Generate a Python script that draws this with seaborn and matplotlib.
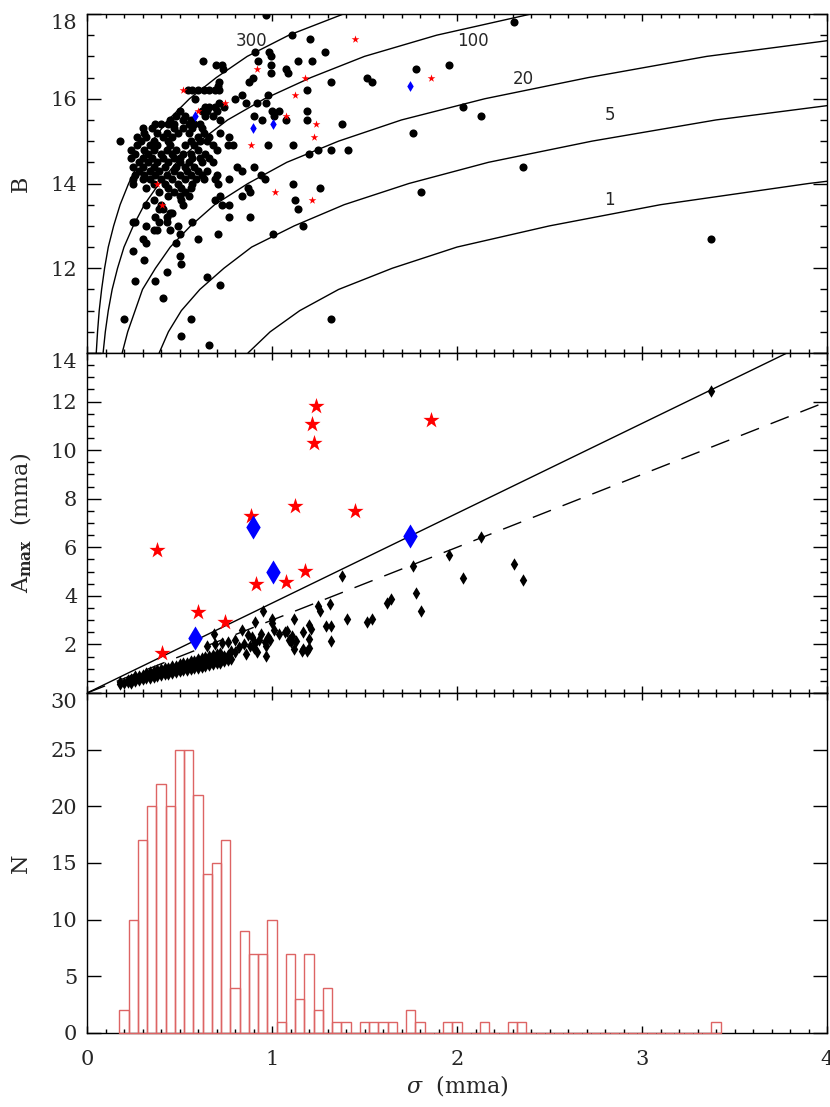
import numpy as np
import pandas as pd
import matplotlib
matplotlib.use("Agg")
import matplotlib.pyplot as plt
from matplotlib.ticker import MultipleLocator
import seaborn as sns

# ---------------- values ----------------
# top panel: B magnitude vs sigma (black dots), one row of B per line
top_sigma = [
    0.968,
    2.308,
    1.106,
    1.207,
    0.908, 0.986, 1.288,
    0.995,
    0.626, 0.926, 1.138, 1.216,
    0.698, 0.73, 0.995, 1.957,
    0.734, 1.076, 1.777,
    0.995, 1.085,
    0.896, 1.516,
    0.716, 0.878, 1.318, 1.538,
    0.707,
    0.545, 0.57, 0.60, 0.63, 0.66, 0.69, 0.716, 1.189,
    0.838, 0.977,
    0.586, 0.799,
    0.716, 0.86, 0.917, 0.968,
    0.64, 0.66, 0.69, 0.74, 2.03,
    0.50, 0.62, 0.65, 0.70, 1.00, 1.04, 1.19,
    0.48, 0.53, 0.64, 0.68, 0.90, 1.01, 2.128,
    0.45, 0.52, 0.56, 0.72, 0.946, 1.076, 1.189,
    0.37, 0.40, 0.44, 0.47, 0.55, 0.58, 0.61, 1.376,
    0.30, 0.35, 0.47, 0.52, 0.57, 0.62,
    0.31, 0.38, 0.43, 0.49, 0.55, 0.63, 0.72, 1.76,
    0.27, 0.32, 0.41, 0.46, 0.60, 0.66, 0.77,
    0.18, 0.29, 0.36, 0.44, 0.56, 0.61, 0.65,
    0.27, 0.34, 0.38, 0.45, 0.53, 0.58, 0.68, 0.76, 0.79, 0.977, 1.115,
    0.24, 0.31, 0.36, 0.43, 0.48, 0.60, 0.70, 1.246, 1.318, 1.41,
    0.26, 0.33, 0.40, 0.46, 0.52, 0.56, 0.64, 1.198,
    0.24, 0.30, 0.35, 0.41, 0.47, 0.50, 0.57, 0.61, 0.66,
    0.28, 0.33, 0.38, 0.44, 0.50, 0.55, 0.62, 0.68,
    0.25, 0.30, 0.36, 0.42, 0.48, 0.53, 0.58, 0.81, 0.90, 2.357,
    0.28, 0.34, 0.39, 0.47, 0.54, 0.60, 0.65, 0.84,
    0.26, 0.31, 0.37, 0.43, 0.50, 0.56, 0.62, 0.70, 0.94,
    0.25, 0.30, 0.34, 0.40, 0.46, 0.53, 0.59, 0.63, 0.69, 0.77, 0.96,
    0.25, 0.36, 0.42, 0.49, 0.57, 0.71, 1.115,
    0.32, 0.44, 0.51, 0.56, 0.87, 1.259,
    0.39, 0.47, 0.53, 0.88, 1.808,
    0.44, 0.50, 0.55, 0.72, 0.84,
    0.36, 0.51, 0.69, 1.126,
    0.32, 0.40, 0.52, 0.73, 0.77,
    0.387, 0.41, 1.138,
    0.45, 0.46,
    0.37, 0.43, 0.77, 0.88,
    0.25, 0.26, 0.39, 0.43, 0.57,
    0.32, 0.49, 1.165,
    0.36, 0.38, 0.45,
    0.50, 0.71, 1.007,
    0.30, 0.60, 3.375,
    0.32, 0.48,
    0.25,
    0.50,
    0.31,
    0.51,
    0.43,
    0.65,
    0.26, 0.37,
    0.72,
    0.41,
    0.20, 0.56, 1.318,
    0.51,
    0.66,
]
top_mag = [
    17.98,
    17.8,
    17.5,
    17.4,
    17.1, 17.1, 17.1,
    17.0,
    16.9, 16.9, 16.9, 16.9,
    16.8, 16.8, 16.8, 16.8,
    16.7, 16.7, 16.7,
    16.6, 16.6,
    16.5, 16.5,
    16.4, 16.4, 16.4, 16.4,
    16.3,
    16.2, 16.2, 16.2, 16.2, 16.2, 16.2, 16.2, 16.2,
    16.1, 16.1,
    16.0, 16.0,
    15.9, 15.9, 15.9, 15.9,
    15.8, 15.8, 15.8, 15.8, 15.8,
    15.7, 15.7, 15.7, 15.7, 15.7, 15.7, 15.7,
    15.6, 15.6, 15.6, 15.6, 15.6, 15.6, 15.6,
    15.5, 15.5, 15.5, 15.5, 15.5, 15.5, 15.5,
    15.4, 15.4, 15.4, 15.4, 15.4, 15.4, 15.4, 15.4,
    15.3, 15.3, 15.3, 15.3, 15.3, 15.3,
    15.2, 15.2, 15.2, 15.2, 15.2, 15.2, 15.2, 15.2,
    15.1, 15.1, 15.1, 15.1, 15.1, 15.1, 15.1,
    15.0, 15.0, 15.0, 15.0, 15.0, 15.0, 15.0,
    14.9, 14.9, 14.9, 14.9, 14.9, 14.9, 14.9, 14.9, 14.9, 14.9, 14.9,
    14.8, 14.8, 14.8, 14.8, 14.8, 14.8, 14.8, 14.8, 14.8, 14.8,
    14.7, 14.7, 14.7, 14.7, 14.7, 14.7, 14.7, 14.7,
    14.6, 14.6, 14.6, 14.6, 14.6, 14.6, 14.6, 14.6, 14.6,
    14.5, 14.5, 14.5, 14.5, 14.5, 14.5, 14.5, 14.5,
    14.4, 14.4, 14.4, 14.4, 14.4, 14.4, 14.4, 14.4, 14.4, 14.4,
    14.3, 14.3, 14.3, 14.3, 14.3, 14.3, 14.3, 14.3,
    14.2, 14.2, 14.2, 14.2, 14.2, 14.2, 14.2, 14.2, 14.2,
    14.1, 14.1, 14.1, 14.1, 14.1, 14.1, 14.1, 14.1, 14.1, 14.1, 14.1,
    14.0, 14.0, 14.0, 14.0, 14.0, 14.0, 14.0,
    13.9, 13.9, 13.9, 13.9, 13.9, 13.9,
    13.8, 13.8, 13.8, 13.8, 13.8,
    13.7, 13.7, 13.7, 13.7, 13.7,
    13.6, 13.6, 13.6, 13.6,
    13.5, 13.5, 13.5, 13.5, 13.5,
    13.4, 13.4, 13.4,
    13.3, 13.3,
    13.2, 13.2, 13.2, 13.2,
    13.1, 13.1, 13.1, 13.1, 13.1,
    13.0, 13.0, 13.0,
    12.9, 12.9, 12.9,
    12.8, 12.8, 12.8,
    12.7, 12.7, 12.7,
    12.6, 12.6,
    12.4,
    12.3,
    12.2,
    12.1,
    11.9,
    11.8,
    11.7, 11.7,
    11.6,
    11.3,
    10.8, 10.8, 10.8,
    10.4,
    10.2,
]
top_star_sigma = [0.518, 0.599, 0.748, 0.917, 1.178, 1.126, 1.076, 1.237,
                  1.228, 0.887, 1.018, 1.216, 0.378, 0.406, 1.448, 1.859]
top_star_mag = [16.2, 15.7, 15.9, 16.7, 16.49, 16.09, 15.6, 15.4,
                15.1, 14.9, 13.8, 13.6, 14.0, 13.5, 17.4, 16.49]
top_blue_sigma = [0.586, 0.899, 1.007, 1.746]
top_blue_mag = [15.6, 15.3, 15.4, 16.29]

# constant-value curves in the top panel (sigma at each B)
curve_mag = [10.0, 10.5, 11.0, 11.5, 12.0, 12.5, 13.0, 13.5, 14.0,
             14.5, 15.0, 15.5, 16.0, 16.5, 17.0, 17.5, 18.0]
curve_sigma_1 = [0.87, 0.99, 1.15, 1.36, 1.65, 2.0, 2.5, 3.1, 3.9,
                 4.85, 6.1, 7.6, 9.6, 12.1, 15.0, 18.9, 24.0]
curve_sigma_5 = [0.39, 0.44, 0.51, 0.61, 0.74, 0.89, 1.12, 1.39, 1.74,
                 2.17, 2.73, 3.40, 4.29, 5.41, 6.71, 8.45, 10.73]
curve_sigma_20 = [0.19, 0.22, 0.26, 0.30, 0.37, 0.45, 0.56, 0.69, 0.87,
                  1.08, 1.36, 1.70, 2.15, 2.71, 3.35, 4.23, 5.37]
curve_sigma_100 = [0.087, 0.099, 0.115, 0.136, 0.165, 0.20, 0.25, 0.31, 0.39,
                   0.485, 0.61, 0.76, 0.96, 1.21, 1.50, 1.89, 2.40]
curve_sigma_300 = [0.050, 0.057, 0.066, 0.079, 0.095, 0.115, 0.144, 0.179, 0.225,
                   0.280, 0.352, 0.439, 0.554, 0.699, 0.866, 1.091, 1.386]
curve_labels = ["300", "100", "20", "5", "1"]
curve_label_sigma = [0.887, 2.087, 2.357, 2.825, 2.825]
curve_label_mag = [17.37, 17.37, 16.47, 15.62, 13.62]

# middle panel: A_max vs sigma
mid_sigma = [
    0.18, 0.18, 0.20, 0.22, 0.22, 0.24, 0.24,
    0.26, 0.26, 0.26, 0.28, 0.28, 0.28, 0.30, 0.30, 0.30,
    0.32, 0.32, 0.32, 0.34, 0.34, 0.34, 0.36, 0.36, 0.36,
    0.38, 0.38, 0.38, 0.40, 0.40, 0.40, 0.42, 0.42, 0.42,
    0.44, 0.44, 0.44, 0.46, 0.46, 0.46, 0.48, 0.48, 0.48,
    0.50, 0.50, 0.50, 0.52, 0.52, 0.52, 0.54, 0.54, 0.54,
    0.56, 0.56, 0.56, 0.58, 0.58, 0.58, 0.60, 0.60, 0.60,
    0.62, 0.62, 0.62, 0.64, 0.64, 0.64, 0.66, 0.66, 0.66,
    0.68, 0.68, 0.68, 0.70, 0.70, 0.70, 0.72, 0.72, 0.72,
    0.74, 0.74, 0.76, 0.76, 0.78,
    0.65, 0.689, 0.69, 0.73, 0.76, 0.78, 0.80, 0.80, 0.82, 0.84,
    0.85, 0.86, 0.87, 0.88, 0.89, 0.90, 0.908, 0.91, 0.92, 0.93,
    0.94, 0.95, 0.96, 0.97, 0.97, 0.98, 0.99, 1.00, 1.00, 1.01,
    1.04, 1.07, 1.08, 1.09, 1.10, 1.11, 1.12, 1.13, 1.117, 1.16,
    1.165, 1.165, 1.19, 1.20, 1.20, 1.20, 1.21, 1.25, 1.26, 1.29,
    1.315, 1.318, 1.32, 1.376, 1.408, 1.516, 1.538, 1.624, 1.642, 1.76,
    1.777, 1.808, 1.957, 2.03, 2.128, 2.308, 2.357, 3.375,
]
mid_amax = [
    0.37, 0.47, 0.41, 0.45, 0.55, 0.58, 0.42,
    0.62, 0.48, 0.68, 0.52, 0.63, 0.72, 0.57, 0.67, 0.76,
    0.60, 0.71, 0.82, 0.62, 0.73, 0.86, 0.66, 0.78, 0.90,
    0.69, 0.81, 0.93, 0.74, 0.85, 0.98, 0.77, 0.89, 1.02,
    0.80, 0.93, 1.05, 0.83, 0.97, 1.10, 0.86, 1.01, 1.13,
    0.90, 1.05, 1.18, 0.93, 1.07, 1.22, 0.96, 1.11, 1.25,
    0.99, 1.15, 1.30, 1.02, 1.19, 1.33, 1.05, 1.22, 1.38,
    1.08, 1.26, 1.43, 1.11, 1.31, 1.47, 1.15, 1.33, 1.52,
    1.18, 1.37, 1.56, 1.22, 1.41, 1.62, 1.25, 1.46, 1.66,
    1.30, 1.51, 1.35, 1.56, 1.42,
    1.95, 2.41, 2.00, 2.05, 2.10, 1.75, 2.20, 1.70, 1.90, 2.60,
    2.00, 1.60, 2.40, 1.95, 2.30, 1.85, 2.92, 2.05, 1.70, 2.20,
    2.45, 3.38, 2.10, 1.51, 1.95, 2.30, 2.20, 3.06, 2.90, 2.58,
    2.45, 2.50, 2.55, 2.20, 2.10, 2.34, 1.80, 2.14, 3.03, 1.75,
    2.51, 1.82, 1.75, 2.78, 2.21, 1.86, 2.62, 3.59, 3.38, 2.76,
    3.66, 2.14, 2.76, 4.80, 3.06, 2.92, 3.03, 3.72, 3.86, 5.21,
    4.10, 3.38, 5.68, 4.74, 6.41, 5.33, 4.66, 12.44,
]
mid_star_sigma = [0.378, 0.406, 0.599, 0.748, 0.887, 0.914, 1.076,
                  1.126, 1.178, 1.216, 1.228, 1.237, 1.448, 1.859]
mid_star_amax = [5.89, 1.66, 3.34, 2.92, 7.27, 4.48, 4.58,
                 7.68, 5.03, 11.08, 10.30, 11.83, 7.48, 11.24]
mid_blue_sigma = [0.586, 0.899, 1.007, 1.746]
mid_blue_amax = [2.28, 6.83, 4.97, 6.48]

# reference lines in the middle panel
line_sigma = [0.0, 4.0]
solid_amax = [0.0, 14.8]
dashed_amax = [0.0, 12.0]

# bottom panel: histogram of sigma (non-empty bins, width 0.05)
hist_sigma = [0.20, 0.25, 0.30, 0.35, 0.40, 0.45, 0.50, 0.55, 0.60, 0.65,
              0.70, 0.75, 0.80, 0.85, 0.90, 0.95, 1.00, 1.05, 1.10, 1.15,
              1.20, 1.25, 1.30, 1.35, 1.40, 1.50, 1.55, 1.60, 1.65, 1.75,
              1.80, 1.95, 2.00, 2.15, 2.30, 2.35, 3.40]
hist_count = [2, 10, 17, 20, 22, 20, 25, 25, 21, 14,
              15, 17, 4, 9, 7, 7, 10, 1, 7, 3,
              7, 2, 4, 1, 1, 1, 1, 1, 1, 2,
              1, 1, 1, 1, 1, 1, 1]

# ---------------- style ----------------
sns.set_style("ticks")
plt.rcParams["font.family"] = ["DejaVu Serif"]
plt.rcParams["mathtext.fontset"] = "dejavuserif"
plt.rcParams["axes.linewidth"] = 1.0

fig = plt.figure(figsize=(8.3, 11.07), dpi=100)
left, width = 0.10482, 0.89157
ax1 = fig.add_axes([left, 0.68112, width, 0.30623])
ax2 = fig.add_axes([left, 0.37398, width, 0.30714])
ax3 = fig.add_axes([left, 0.06685, width, 0.30714])

# ---- top panel ----
for cs in [curve_sigma_300, curve_sigma_100, curve_sigma_20, curve_sigma_5, curve_sigma_1]:
    sns.lineplot(x=cs, y=curve_mag, sort=False, estimator=None,
                 color="black", linewidth=1.0, ax=ax1)
for lab, xs, ys in zip(curve_labels, curve_label_sigma, curve_label_mag):
    ax1.text(xs, ys, lab, ha="center", va="center", fontsize=12,
             family="DejaVu Sans")
sns.scatterplot(x=top_sigma, y=top_mag, marker="o", s=34, color="black",
                linewidth=0, ax=ax1, zorder=3)
sns.scatterplot(x=top_star_sigma, y=top_star_mag, marker="*", s=34,
                color="red", linewidth=0, ax=ax1, zorder=4)
sns.scatterplot(x=top_blue_sigma, y=top_blue_mag, marker="d", s=30,
                color="blue", linewidth=0, ax=ax1, zorder=4)
ax1.set_ylim(10, 18)
ax1.set_yticks([10, 12, 14, 16, 18], labels=["", "12", "14", "16", "18"])
ax1.yaxis.set_minor_locator(MultipleLocator(0.5))
ax1.set_ylabel("B", fontsize=16)

# ---- middle panel ----
sns.scatterplot(x=mid_sigma, y=mid_amax, marker="d", s=40, color="black",
                linewidth=0, ax=ax2, zorder=3)
sns.lineplot(x=line_sigma, y=solid_amax, color="black", linewidth=1.0,
             estimator=None, ax=ax2)
sns.lineplot(x=line_sigma, y=dashed_amax, color="black", linewidth=1.0,
             estimator=None, ax=ax2)
ax2.lines[-1].set_dashes([14, 9])
sns.scatterplot(x=mid_star_sigma, y=mid_star_amax, marker="*", s=150,
                color="red", linewidth=0, ax=ax2, zorder=4)
sns.scatterplot(x=mid_blue_sigma, y=mid_blue_amax, marker="d", s=150,
                color="blue", linewidth=0, ax=ax2, zorder=5)
ax2.set_ylim(0, 14)
ax2.set_yticks(list(range(0, 15, 2)),
               labels=[""] + [str(v) for v in range(2, 15, 2)])
ax2.yaxis.set_minor_locator(MultipleLocator(0.5))
ax2.set_ylabel(r"A$_{\mathbf{max}}$  (mma)", fontsize=16)

# ---- bottom panel ----
hist_df = pd.DataFrame({"sigma": hist_sigma, "count": hist_count})
edges = np.linspace(0.175, 3.425, 66).tolist()
sns.histplot(data=hist_df, x="sigma", weights="count", bins=edges, fill=False,
             color="#dd6464", linewidth=1.0, ax=ax3)
for p in ax3.patches:
    p.set_clip_on(False)
    p.set_zorder(3)
ax3.set_ylim(0, 30)
ax3.set_yticks([0, 5, 10, 15, 20, 25, 30])
ax3.set_ylabel("N", fontsize=16)
ax3.set_xlabel(r"$\sigma$  (mma)", fontsize=16)

# ---- common axis formatting ----
for ax in (ax1, ax2, ax3):
    ax.set_xlim(0, 4)
    ax.xaxis.set_major_locator(MultipleLocator(1))
    ax.xaxis.set_minor_locator(MultipleLocator(0.1))
    ax.tick_params(which="both", direction="in", top=True, right=True,
                   labelsize=15, color="black")
    ax.tick_params(axis="y", which="major", length=10, width=1, pad=7)
    ax.tick_params(axis="y", which="minor", length=5, width=1)
    ax.tick_params(axis="x", which="major", length=5, width=1, pad=12)
    ax.tick_params(axis="x", which="minor", length=3, width=1)
    ax.yaxis.label.set_va("center")
    ax.yaxis.set_label_coords(-0.089, 0.5)
    for sp in ax.spines.values():
        sp.set_visible(True)
        sp.set_color("black")
        sp.set_linewidth(1.0)
    # push the top tick label down inside the panel
    ax.yaxis.get_major_ticks()[-1].label1.set_verticalalignment("top")

ax3.spines["bottom"].set_zorder(1)
ax1.tick_params(axis="x", labelbottom=False)
ax2.tick_params(axis="x", labelbottom=False)
ax3.yaxis.set_minor_locator(plt.NullLocator())
ax3.xaxis.label.set_va("center")
ax3.xaxis.set_label_coords(0.5, -0.153)

fig.savefig("out.png", dpi=100)
plt.close(fig)
